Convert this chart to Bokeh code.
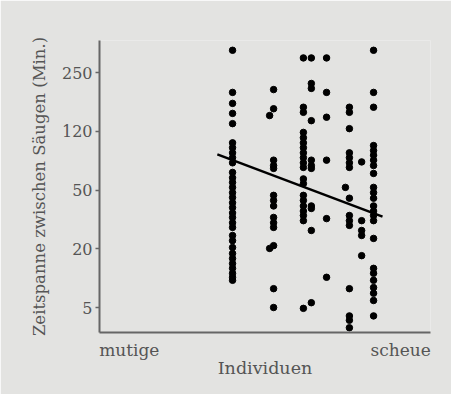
import numpy as np
from bokeh.plotting import figure
from bokeh.models import FixedTicker, ColumnDataSource
from bokeh.embed import file_html
from bokeh.resources import INLINE

# ---- data (minutes between suckling bouts, per individual) ----
y_ticks = [5, 20, 50, 120, 250]
y_tick_labels = ["5", "20", "50", "120", "250"]

ind1_x = 40.2
ind1 = [330, 195, 170, 150, 132, 101, 94, 87, 81, 75, 65, 60, 56, 52, 48, 44.5, 41, 38,
        35, 32.6, 30, 27.9, 24.6, 22.7, 20.4, 17.9, 15.9, 14.1, 12.6, 11.2, 10.2, 9.5]
ind2_x = 52.6
ind2 = [202, 159, 78, 72, 69, 46, 42.5, 39, 32.6, 30, 27.9, 21, 7.8, 5]
ind2b_x = 51.4
ind2b = [146, 20.1]
ind3_x = 61.6
ind3 = [300, 162, 152, 118, 109, 101, 94, 87, 81, 75, 70, 59, 55, 46, 42.5, 39, 36,
        33.6, 31, 4.9]
ind4_x = 64.0
ind4 = [300, 218, 205, 137, 78, 72, 69, 39, 37.5, 26.6, 5.6]
ind5_x = 68.6
ind5 = [300, 195, 143, 78, 32, 10.2]
ind6_x = 75.5
ind6 = [162, 152, 124, 87, 81, 75, 70, 44, 33.6, 31, 28.8, 7.8, 4.1, 3.7, 3.1]
ind6b_x = 74.3
ind6b = [52]
ind7_x = 79.2
ind7 = [76, 31, 26.6, 24.6, 17]
ind8_x = 82.8
ind8 = [330, 195, 162, 97, 90, 84, 78, 72, 64, 52, 48, 44, 39, 36, 33.6, 31, 23.5,
        12.6, 11.2, 9.5, 8, 7, 5.9, 4.1]

trend_x = [35.6, 85.5]
trend_y = [85, 33]

x_labels = {9: "mutige", 91: "scheue"}

# ---- axis transform: evenly spaced tick labels, log-interpolated between them ----
_lt = np.log10(np.array(y_ticks, dtype=float))
_pos = np.arange(len(y_ticks), dtype=float)


def to_pos(v):
    lv = np.log10(np.asarray(v, dtype=float))
    out = np.interp(lv, _lt, _pos)
    lo = lv < _lt[0]
    hi = lv > _lt[-1]
    out[lo] = (lv[lo] - _lt[0]) / (_lt[1] - _lt[0])
    out[hi] = _pos[-1] + (lv[hi] - _lt[-1]) / (_lt[-1] - _lt[-2])
    return out


groups = [(ind1_x, ind1), (ind2_x, ind2), (ind2b_x, ind2b), (ind3_x, ind3),
          (ind4_x, ind4), (ind5_x, ind5), (ind6_x, ind6), (ind6b_x, ind6b),
          (ind7_x, ind7), (ind8_x, ind8)]
xs, ys = [], []
for gx, vals in groups:
    xs += [gx] * len(vals)
    ys += list(to_pos(vals))

BG = "#e3e3e1"
TXT = "#555555"
FONT = "DejaVu Serif"

p = figure(width=451, height=394, output_backend="svg", toolbar_location=None,
           x_range=(0, 100), y_range=(-0.4255, 4.545),
           min_border_left=99, min_border_right=21, min_border_top=40,
           min_border_bottom=62)
p.background_fill_color = BG
p.border_fill_color = BG
p.outline_line_color = None
p.grid.visible = False

src = ColumnDataSource(dict(x=xs, y=ys))
p.scatter("x", "y", source=src, size=6.5, color="black", line_color="black")
p.line(trend_x, list(to_pos(trend_y)), line_color="black", line_width=2.5)

# y axis
ya = p.yaxis[0]
ya.ticker = FixedTicker(ticks=list(_pos))
ya.major_label_overrides = {int(i): t for i, t in zip(_pos, y_tick_labels)}
ya.minor_tick_line_color = None
ya.major_tick_in = 0
ya.major_tick_out = 4
ya.major_tick_line_color = "#666666"
ya.major_tick_line_width = 1.5
ya.axis_line_color = "#666666"
ya.axis_line_width = 2
ya.major_label_text_font = FONT
ya.major_label_text_font_size = "16px"
ya.major_label_text_color = TXT
ya.major_label_standoff = 3
ya.axis_label = "Zeitspanne zwischen Säugen (Min.)"
ya.axis_label_text_font = FONT
ya.axis_label_text_font_size = "16.5px"
ya.axis_label_text_font_style = "normal"
ya.axis_label_text_color = TXT
ya.axis_label_standoff = 10

# x axis
xa = p.xaxis[0]
xa.ticker = FixedTicker(ticks=list(x_labels.keys()))
xa.major_label_overrides = x_labels
xa.minor_tick_line_color = None
xa.major_tick_line_color = None
xa.major_tick_in = 0
xa.major_tick_out = 0
xa.axis_line_color = "#666666"
xa.axis_line_width = 2
xa.major_label_text_font = FONT
xa.major_label_text_font_size = "17px"
xa.major_label_text_color = TXT
xa.major_label_standoff = 7
xa.axis_label = "Individuen"
xa.axis_label_text_font = FONT
xa.axis_label_text_font_size = "17.5px"
xa.axis_label_text_font_style = "normal"
xa.axis_label_text_color = TXT
xa.axis_label_standoff = -5

open("out.html", "w").write(file_html(p, INLINE))
